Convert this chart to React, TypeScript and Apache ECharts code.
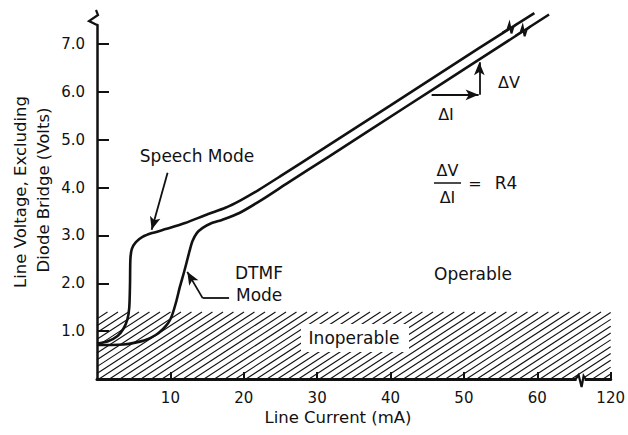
import React, { useEffect, useRef } from "react";
import * as echarts from "echarts";

// ---- data ----
const speechX = [0, 1.5, 2.8, 3.6, 4.15, 4.4, 4.5, 4.55, 4.75, 5.3, 6.2, 7.5, 9.5, 12, 15, 17.5, 19.5, 22, 25, 31, 40, 52, 59.6];
const speechY = [0.74, 0.79, 0.9, 1.05, 1.25, 1.5, 2.0, 2.5, 2.72, 2.86, 2.97, 3.05, 3.14, 3.26, 3.44, 3.58, 3.73, 3.95, 4.24, 4.83, 5.72, 6.91, 7.65];
const dtmfX = [0, 2, 3.6, 5.2, 6.7, 8, 8.9, 9.7, 10.2, 10.8, 11.3, 11.8, 12.2, 12.6, 13.0, 13.6, 14.4, 15.5, 17.1, 19.4, 22.5, 26, 31.6, 42, 52, 61.6];
const dtmfY = [0.71, 0.71, 0.72, 0.76, 0.82, 0.92, 1.03, 1.17, 1.32, 1.62, 1.93, 2.2, 2.43, 2.67, 2.88, 3.05, 3.16, 3.25, 3.33, 3.47, 3.75, 4.1, 4.65, 5.68, 6.67, 7.62];
const xTickValues = [10, 20, 30, 40, 50, 60, 70];
const xTickLabels = ["10", "20", "30", "40", "50", "60", "120"];
const yTickValues = [1, 2, 3, 4, 5, 6, 7];
const yTickLabels = ["1.0", "2.0", "3.0", "4.0", "5.0", "6.0", "7.0"];
const inoperableBand = [[0, 70, 0, 1.4]]; // xFrom, xTo, yFrom, yTo
const breakMarks = [
  [0, 7.4, 0],
  [65.9, 0, 1],
  [56.2, 7.33, 2],
  [58.0, 7.27, 2],
];
const speechArrow = [[9.62, 4.31], [7.45, 3.12]];
const dtmfLeader = [[18.0, 1.69], [14.4, 1.69]];
const dtmfArrow = [[14.4, 1.69], [12.3, 2.24]];
const dIArrow = [[45.6, 5.94], [52.0, 5.94]];
const dVArrow = [[52.1, 5.94], [52.1, 6.62]];

const FONT = "DejaVu Sans";
const INK = "#111";

export default function App() {
  const ref = useRef<HTMLDivElement>(null);
  useEffect(() => {
    document.body.style.margin = "0";
    const chart = echarts.init(ref.current!, undefined, { renderer: "svg" });

    const hatchRender = (params: any, api: any) => {
      const p0 = api.coord([api.value(0), api.value(3)]);
      const p1 = api.coord([api.value(1), api.value(2)]);
      const left = p0[0], top = p0[1], right = p1[0], bottom = p1[1];
      const slope = 0.65;
      const spacing = 10.5;
      const h = bottom - top;
      const children: any[] = [];
      for (let s = left - h / slope; s < right; s += spacing) {
        let xa = s, ya = bottom, xb = s + h / slope, yb = top;
        if (xa < left) { ya = bottom - slope * (left - s); xa = left; }
        if (xb > right) { yb = bottom - slope * (right - s); xb = right; }
        if (xb <= xa) continue;
        children.push({
          type: "line",
          shape: { x1: xa, y1: ya, x2: xb, y2: yb },
          style: { stroke: INK, lineWidth: 1.1 },
        });
      }
      return { type: "group", children };
    };

    const breakRender = (params: any, api: any) => {
      const p = api.coord([api.value(0), api.value(1)]);
      const kind = api.value(2);
      let pts: number[][];
      const children: any[] = [];
      if (kind === 0) {
        pts = [[0, 0], [-8, -4], [1, -10], [-1, -15]];
      } else if (kind === 1) {
        children.push({ type: "rect", shape: { x: p[0] - 4, y: p[1] - 2, width: 8, height: 4 }, style: { fill: "#fff" } });
        pts = [[-5, 0], [-2, -4], [1, 8], [3, -3], [5, 0]];
      } else {
        pts = [[-7, 4.3], [-2, 1.2], [0, -5], [2, 5], [4, -1.5], [8, -4.9]];
      }
      children.push({
        type: "polyline",
        shape: { points: pts.map((q) => [p[0] + q[0], p[1] + q[1]]) },
        style: { stroke: INK, lineWidth: kind === 2 ? 2 : 2.2, fill: "none" },
      });
      return { type: "group", children };
    };

    const textStyle = (text: string, size: number, align = "center") => ({
      text,
      fill: INK,
      fontSize: size,
      fontFamily: FONT,
      align,
      verticalAlign: "middle",
    });

    const arrowEnd = (c: number[]) => ({ coord: c, symbol: "arrow", symbolSize: [8, 13] });
    const plainEnd = (c: number[]) => ({ coord: c, symbol: "none" });

    chart.setOption({
      animation: false,
      backgroundColor: "#fff",
      grid: { left: 97, right: 15, top: 25, bottom: 56 },
      xAxis: {
        type: "value",
        min: 0,
        max: 70,
        interval: 10,
        axisLine: { show: true, onZero: false, lineStyle: { color: INK, width: 3 } },
        axisTick: { show: true, inside: true, length: 7, lineStyle: { color: INK, width: 2 }, customValues: xTickValues },
        axisLabel: {
          customValues: xTickValues,
          formatter: (v: number) => xTickLabels[xTickValues.indexOf(v)] ?? "",
          fontFamily: FONT,
          fontSize: 15,
          color: INK,
          margin: 11,
        },
        splitLine: { show: false },
      },
      yAxis: {
        type: "value",
        min: 0,
        max: 7.4,
        interval: 1,
        axisLine: { show: true, onZero: false, lineStyle: { color: INK, width: 2.5 } },
        axisTick: { show: true, inside: true, length: 12, lineStyle: { color: INK, width: 2 }, customValues: yTickValues },
        axisLabel: {
          customValues: yTickValues,
          formatter: (v: number) => yTickLabels[yTickValues.indexOf(v)] ?? "",
          fontFamily: FONT,
          fontSize: 15,
          color: INK,
          margin: 12,
        },
        splitLine: { show: false },
      },
      series: [
        {
          type: "custom",
          name: "Inoperable",
          renderItem: hatchRender,
          data: inoperableBand,
          encode: { x: [0, 1], y: [2, 3] },
          z: 1,
          silent: true,
        },
        {
          type: "line",
          name: "Speech Mode",
          data: speechX.map((x, i) => [x, speechY[i]]),
          showSymbol: false,
          smooth: 0.25,
          clip: false,
          lineStyle: { color: INK, width: 2.6 },
          z: 3,
          markLine: {
            silent: true,
            animation: false,
            label: { show: false },
            lineStyle: { color: INK, type: "solid", width: 1.8 },
            data: [
              [plainEnd(speechArrow[0]), arrowEnd(speechArrow[1])],
              [plainEnd(dtmfLeader[0]), plainEnd(dtmfLeader[1])],
              [plainEnd(dtmfArrow[0]), arrowEnd(dtmfArrow[1])],
              [plainEnd(dIArrow[0]), arrowEnd(dIArrow[1])],
              [plainEnd(dVArrow[0]), arrowEnd(dVArrow[1])],
            ],
          },
        },
        {
          type: "line",
          name: "DTMF Mode",
          data: dtmfX.map((x, i) => [x, dtmfY[i]]),
          showSymbol: false,
          smooth: 0.25,
          clip: false,
          lineStyle: { color: INK, width: 2.6 },
          z: 3,
        },
        {
          type: "custom",
          name: "breaks",
          renderItem: breakRender,
          data: breakMarks,
          clip: false,
          z: 5,
          silent: true,
        },
      ],
      graphic: [
        { type: "text", x: 20, y: 192, rotation: Math.PI / 2, z: 100, style: textStyle("Line Voltage, Excluding", 16.5) },
        { type: "text", x: 43, y: 190, rotation: Math.PI / 2, z: 100, style: textStyle("Diode Bridge (Volts)", 16.5) },
        { type: "text", x: 338, y: 417, z: 100, style: textStyle("Line Current (mA)", 16.5) },
        { type: "text", x: 197, y: 156, z: 100, style: textStyle("Speech Mode", 17) },
        { type: "text", x: 235, y: 273, z: 100, style: textStyle("DTMF", 17, "left") },
        { type: "text", x: 236, y: 295, z: 100, style: textStyle("Mode", 17, "left") },
        { type: "text", x: 473, y: 274, z: 100, style: textStyle("Operable", 17) },
        { type: "rect", shape: { x: 301, y: 324, width: 108, height: 28 }, z: 100, style: { fill: "#fff" } },
        { type: "text", x: 354, y: 338, z: 101, style: textStyle("Inoperable", 17) },
        { type: "text", x: 509, y: 82, z: 100, style: textStyle("ΔV", 16) },
        { type: "text", x: 446, y: 114, z: 100, style: textStyle("ΔI", 16) },
        { type: "text", x: 447.5, y: 170, z: 100, style: textStyle("ΔV", 16) },
        { type: "line", shape: { x1: 434, y1: 183, x2: 461, y2: 183 }, z: 100, style: { stroke: INK, lineWidth: 1.5 } },
        { type: "text", x: 447.5, y: 197, z: 100, style: textStyle("ΔI", 16) },
        { type: "text", x: 475, y: 183, z: 100, style: textStyle("=", 16) },
        { type: "text", x: 506, y: 183, z: 100, style: textStyle("R4", 17) },
      ],
    });
    return () => chart.dispose();
  }, []);
  return <div ref={ref} style={{ position: "fixed", left: 0, top: 0, width: 628, height: 435, background: "#fff" }} />;
}
